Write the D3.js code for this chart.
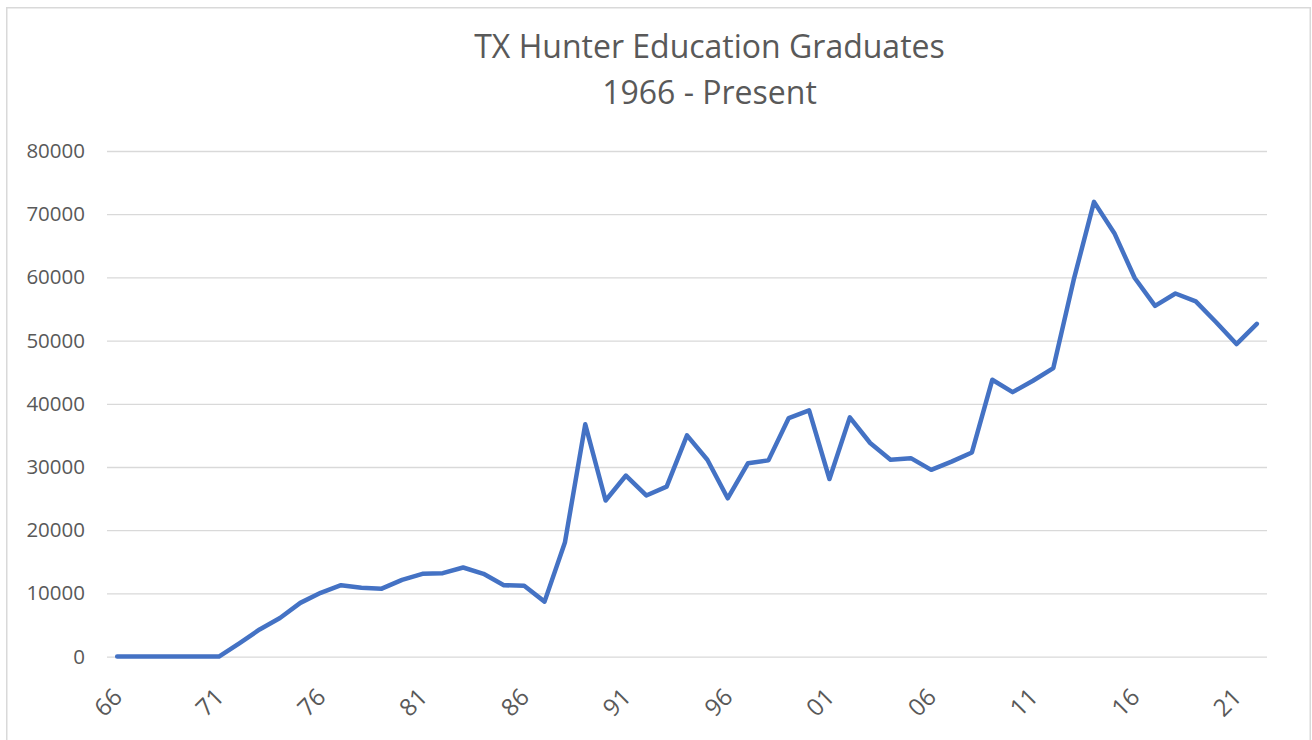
<!DOCTYPE html>
<html>
<head>
<meta charset="utf-8">
<script src="https://cdn.jsdelivr.net/npm/d3@7"></script>
<style>
    body { margin: 0; background: #fff; }
    text { font-family: "Open Sans", "Noto Sans", sans-serif; fill: #595959; }
</style>
</head>
<body>
<div id="chartContainer"></div>
<script>
'use strict';

// years on the category axis
const years = [1966, 1967, 1968, 1969, 1970, 1971, 1972, 1973, 1974, 1975,
    1976, 1977, 1978, 1979, 1980, 1981, 1982, 1983, 1984, 1985,
    1986, 1987, 1988, 1989, 1990, 1991, 1992, 1993, 1994, 1995,
    1996, 1997, 1998, 1999, 2000, 2001, 2002, 2003, 2004, 2005,
    2006, 2007, 2008, 2009, 2010, 2011, 2012, 2013, 2014, 2015,
    2016, 2017, 2018, 2019, 2020, 2021, 2022];

// graduates per year
const graduates = [0, 0, 0, 0, 0, 0, 2100, 4300, 6100, 8500,
    10100, 11300, 10900, 10750, 12150, 13100, 13200, 14100, 13100, 11300,
    11200, 8700, 18050, 36750, 24700, 28650, 25500, 26900, 35000, 31150,
    25050, 30600, 31050, 37750, 38950, 28100, 37850, 33800, 31150, 31400,
    29550, 30850, 32300, 43800, 41850, 43650, 45650, 59600, 71950, 67000,
    59900, 55500, 57450, 56200, 52900, 49450, 52650];

// labelled years and their short labels
const tickYears = [1966, 1971, 1976, 1981, 1986, 1991, 1996, 2001, 2006, 2011, 2016, 2021];
const tickLabels = ["66", "71", "76", "81", "86", "91", "96", "01", "06", "11", "16", "21"];

const yTicks = [0, 10000, 20000, 30000, 40000, 50000, 60000, 70000, 80000];

const titleLines = ["TX Hunter Education Graduates", "1966 - Present"];

const W = 1312, H = 740;
const plot = { left: 107, right: 1267, top: 151, bottom: 656.6 };

const svg = d3.select("#chartContainer")
    .append("svg")
    .attr("width", W)
    .attr("height", H);

// chart border
svg.append("rect")
    .attr("x", 6.75)
    .attr("y", 7.75)
    .attr("width", 1303.5)
    .attr("height", 760)
    .attr("fill", "none")
    .attr("stroke", "#d9d9d9")
    .attr("stroke-width", 1.5);

const x = d3.scalePoint()
    .domain(years)
    .range([plot.left, plot.right])
    .padding(0.5);

const y = d3.scaleLinear()
    .domain([0, 80000])
    .range([plot.bottom, plot.top]);

// gridlines + y labels
const yAxis = d3.axisLeft(y)
    .tickValues(yTicks)
    .tickSize(-(plot.right - plot.left))
    .tickPadding(22)
    .tickFormat(d3.format("d"));

const gy = svg.append("g")
    .attr("transform", "translate(" + plot.left + ",0)")
    .call(yAxis);

gy.select(".domain").remove();
gy.selectAll("line")
    .attr("stroke", "#d9d9d9")
    .attr("stroke-width", 1.3);
gy.selectAll("text")
    .style("font-size", "20.5px")
    .attr("fill", "#595959");

// x labels, rotated
const xAxis = d3.axisBottom(x)
    .tickValues(tickYears)
    .tickSize(0)
    .tickFormat((d) => tickLabels[tickYears.indexOf(d)]);

const gx = svg.append("g")
    .attr("transform", "translate(0," + plot.bottom + ")")
    .call(xAxis);

gx.select(".domain").remove();
gx.selectAll("text")
    .style("font-size", "24px")
    .attr("fill", "#595959")
    .attr("y", 0)
    .attr("dy", "0.35em")
    .attr("text-anchor", "end")
    .attr("transform", "translate(0,36) rotate(-45)");

// the series
svg.append("path")
    .datum(graduates)
    .attr("fill", "none")
    .attr("stroke", "#4472c4")
    .attr("stroke-width", 4.5)
    .attr("stroke-linejoin", "round")
    .attr("stroke-linecap", "round")
    .attr("d", d3.line()
        .x((d, i) => x(years[i]))
        .y((d) => y(d)));

// title
svg.append("g")
    .selectAll("text")
    .data(titleLines)
    .enter()
    .append("text")
    .attr("x", 709.5)
    .attr("y", (d, i) => 58 + i * 46)
    .attr("text-anchor", "middle")
    .style("font-size", "32px")
    .text((d) => d);
</script>
</body>
</html>
